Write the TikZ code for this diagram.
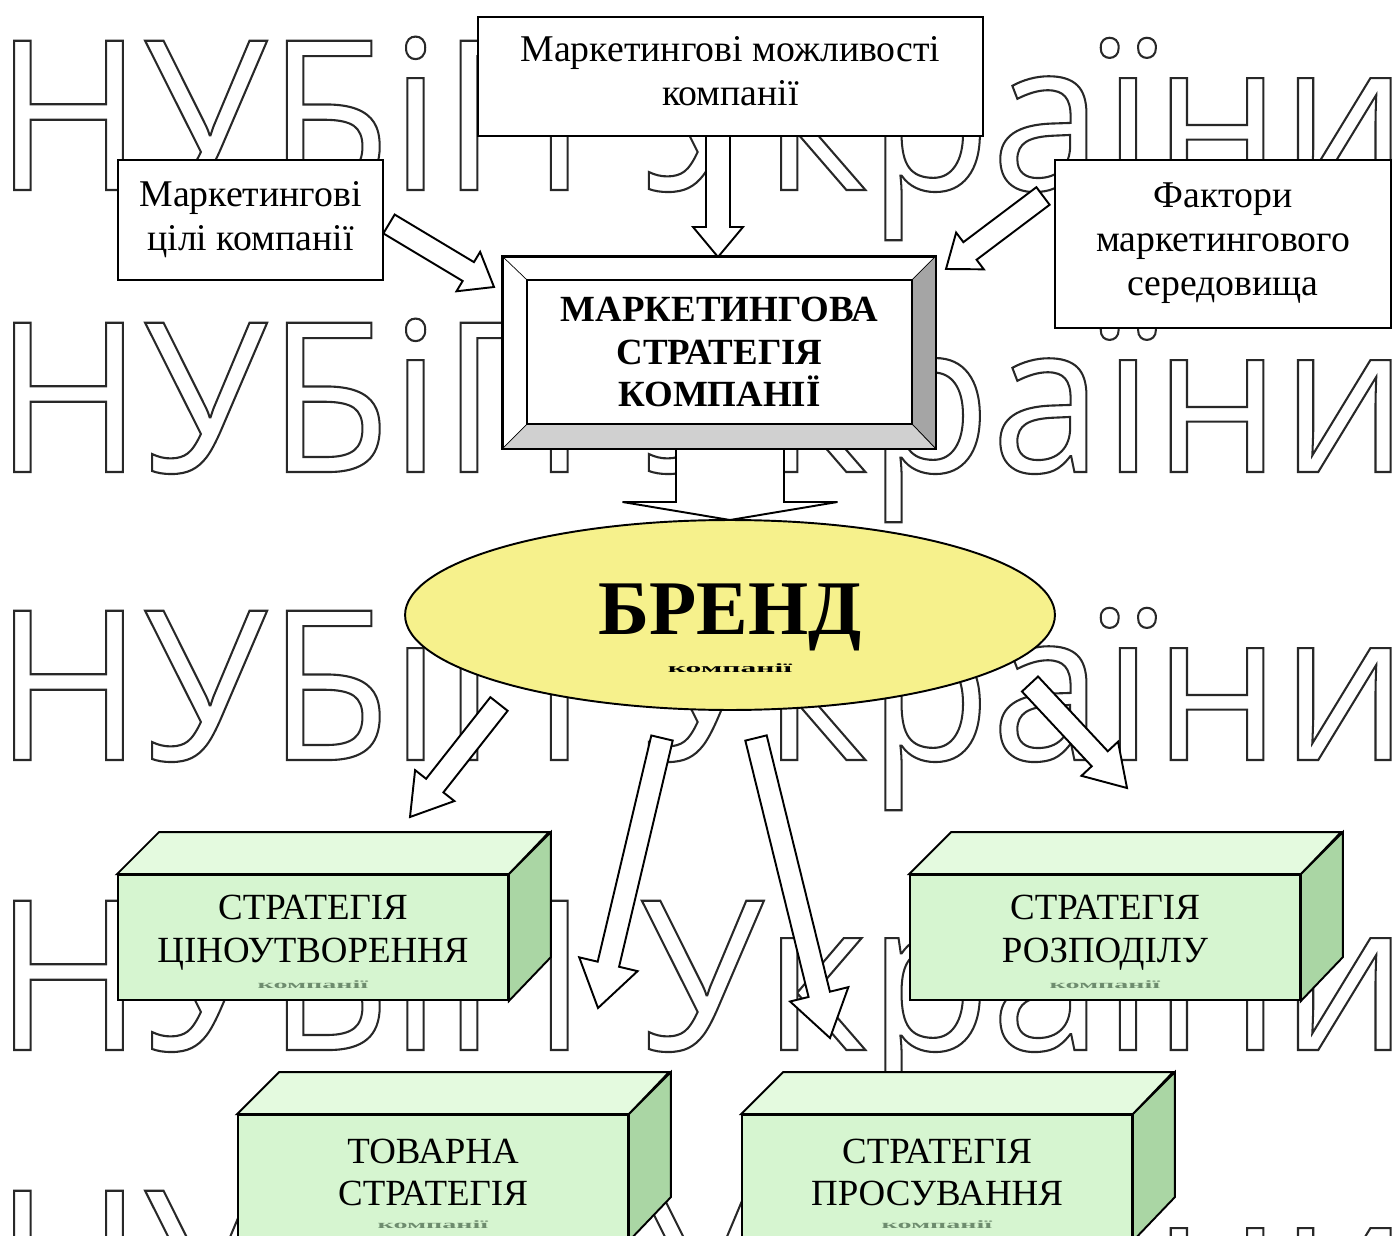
\documentclass[tikz,border=0pt]{standalone}
\usepackage{fontspec}
\setmainfont{Liberation Serif}
\newfontfamily\wmfont{Open Sans}
\usetikzlibrary{positioning,calc,shapes.geometric}

\definecolor{brandyellow}{RGB}{246,241,140}
\definecolor{boxgreen}{RGB}{214,245,208}
\definecolor{boxgreentop}{RGB}{228,250,223}
\definecolor{boxgreenside}{RGB}{170,214,164}
\definecolor{bevelside}{RGB}{165,165,165}
\definecolor{bevelbottom}{RGB}{208,208,208}
\definecolor{wmgray}{RGB}{40,40,40}
\definecolor{subgreen}{RGB}{110,140,110}

\newcommand{\outlined}[1]{\special{pdf:literal direct 1 Tr 1.2 w}#1\special{pdf:literal direct 0 Tr}}
\newcommand{\blockarrow}[5]{%
  \coordinate (ba-n) at ($(#2)!#5!(#1)$);
  \draw[blockarr] ($(#1)!#3!90:(#2)$) -- ($(ba-n)!#3!90:(#2)$) -- ($(ba-n)!#4!90:(#2)$) -- (#2)
    -- ($(ba-n)!#4!-90:(#2)$) -- ($(ba-n)!#3!-90:(#2)$) -- ($(#1)!#3!-90:(#2)$) -- cycle;
}

\tikzset{
  watermark/.style={anchor=base west,inner sep=0,text=wmgray,font=\wmfont\fontsize{119}{119}\selectfont},
  plainbox/.style={rectangle,draw=black,fill=white,line width=1.1pt,align=center,font=\fontsize{21.5}{25}\selectfont},
  blockarr/.style={draw=black,fill=white,line width=1.1pt,line join=miter},
  frontbox/.style={rectangle,draw=black,fill=boxgreen,line width=1.1pt,minimum width=7.8cm,minimum height=2.5cm,inner sep=0},
  boxlabel/.style={align=center,font=\fontsize{21}{24.4}\selectfont},
  subtext/.style={text=subgreen,font=\bfseries\fontsize{16}{16}\selectfont}
}

\begin{document}
\begin{tikzpicture}[x=0.02cm,y=-0.02cm]
\useasboundingbox (0,0) rectangle (1395,1236);
% background lettering
\foreach \wy [count=\i] in {190,472,760,1050,1340}
  \node[watermark] (wm\i) at (-6,\wy) {\scalebox{0.96}[1]{\outlined{НУБіП України}}};

\node[plainbox,minimum width=10.1cm,minimum height=2.38cm] (opps) at (730.5,76.5) {Маркетингові можливості\\компанії\\[-19pt]};
\node[plainbox,minimum width=5.3cm,minimum height=2.4cm] (goals) at (250.5,220) {Маркетингові\\цілі компанії};
\node[plainbox,minimum width=6.72cm,minimum height=3.36cm] (factors) at (1223,244) {Фактори\\маркетингового\\середовища\\[-19pt]};

\coordinate (opps-tail) at (718,136);
\coordinate (opps-tip) at (718,257);
\coordinate (goals-tail) at (389,224);
\coordinate (goals-tip) at (494,287);
\coordinate (factors-tail) at (1043,196);
\coordinate (factors-tip) at (946,269);
\coordinate (strategy-tail) at (730,448);
\coordinate (brand-tip) at (730,520);
\blockarrow{opps-tail}{opps-tip}{0.24cm}{0.5cm}{0.6cm}
\blockarrow{goals-tail}{goals-tip}{0.22cm}{0.46cm}{0.6cm}
\blockarrow{factors-tail}{factors-tip}{0.22cm}{0.46cm}{0.6cm}
\blockarrow{strategy-tail}{brand-tip}{1.08cm}{2.15cm}{0.36cm}

% bevelled strategy box
\node[rectangle,draw=black,fill=white,line width=1.1pt,minimum width=8.64cm,minimum height=3.82cm,inner sep=0] (bevel) at (719,352.5) {};
\node[rectangle,minimum width=7.7cm,minimum height=2.88cm,inner sep=0] (inner) at (719.5,352) {};
\filldraw[fill=bevelside,draw=black,thin] (bevel.north east) -- (inner.north east) -- (inner.south east) -- (bevel.south east) -- cycle;
\filldraw[fill=bevelbottom,draw=black,thin] (bevel.south west) -- (inner.south west) -- (inner.south east) -- (bevel.south east) -- cycle;
\draw[thin] (bevel.north west) -- (inner.north west);
\draw[line width=1.1pt] (bevel.north west) rectangle (bevel.south east);
\node[rectangle,draw=black,fill=white,line width=1.1pt,minimum width=7.7cm,minimum height=2.88cm,align=center,font=\bfseries\fontsize{21}{24.4}\selectfont] (strategy) at (inner) {МАРКЕТИНГОВА\\СТРАТЕГІЯ\\КОМПАНІЇ};

\coordinate (brand-l) at (499,704);
\coordinate (pricing-tip) at (410,817);
\coordinate (brand-ml) at (662,738);
\coordinate (product-tip) at (598,1008);
\coordinate (brand-mr) at (756,738);
\coordinate (promotion-tip) at (830,1038);
\coordinate (brand-r) at (1030,684);
\coordinate (distribution-tip) at (1127,788);
\blockarrow{brand-l}{pricing-tip}{0.22cm}{0.5cm}{0.8cm}
\blockarrow{brand-ml}{product-tip}{0.22cm}{0.6cm}{0.9cm}
\blockarrow{brand-mr}{promotion-tip}{0.22cm}{0.6cm}{0.9cm}
\blockarrow{brand-r}{distribution-tip}{0.22cm}{0.5cm}{0.8cm}

% brand
\node[ellipse,draw=black,line width=1.1pt,fill=brandyellow,minimum width=13cm,minimum height=3.8cm,inner sep=0] (brand) at (730,615) {};
\node[anchor=base,font=\bfseries\fontsize{44}{44}\selectfont] (brandname) at (730,634) {БРЕНД};
\node[anchor=base,font=\bfseries\fontsize{18}{18}\selectfont] (brandsub) at (730,672) {\scalebox{1}[0.4]{компанії}};

% strategy blocks
\foreach \nm/\cx/\cy/\txt in {pricing/313/937.5/{СТРАТЕГІЯ\\ЦІНОУТВОРЕННЯ},distribution/1105/937.5/{СТРАТЕГІЯ\\РОЗПОДІЛУ},product/433/1177.5/{ТОВАРНА\\СТРАТЕГІЯ},promotion/937/1177.5/{СТРАТЕГІЯ\\ПРОСУВАННЯ}}{
  \node[frontbox] (\nm) at (\cx,\cy) {};
  \filldraw[fill=boxgreentop,draw=black,line width=1.1pt] (\nm.north west) -- ++(42,-42) -- ++(390,0) -- (\nm.north east) -- cycle;
  \filldraw[fill=boxgreenside,draw=black,line width=1.1pt] (\nm.north east) -- ++(42,-42) -- ++(0,125) -- (\nm.south east) -- cycle;
  \node[boxlabel] (\nm-label) at (\cx,\cy-5) {\txt};
  \node[subtext] (\nm-sub) at (\cx,\cy+47) {\scalebox{1}[0.4]{компанії}};
}
\end{tikzpicture}
\end{document}
